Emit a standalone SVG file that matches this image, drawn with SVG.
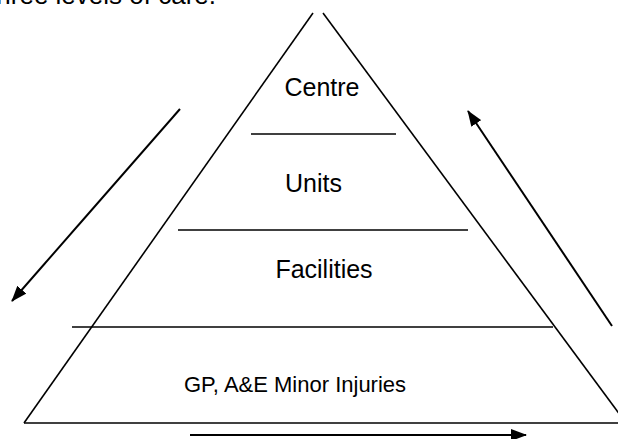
<svg xmlns="http://www.w3.org/2000/svg" width="618" height="439" viewBox="0 0 618 439">
<style>
.ln{stroke:#000;stroke-width:1.6;fill:none}
.ar{stroke:#000;stroke-width:2;fill:none}
.t{font-family:"Liberation Sans",Arial,sans-serif;font-size:25px;fill:#000;text-anchor:middle}
</style>
<defs>
<marker id="ah" markerUnits="userSpaceOnUse" markerWidth="16" markerHeight="12" refX="15" refY="6" orient="auto">
<path d="M0,0 L16,6 L0,12 Z" fill="#000"/>
</marker>
</defs>
<rect width="618" height="439" fill="#fff"/>
<text x="216" y="4" font-family="Liberation Sans,Arial,sans-serif" font-size="26" text-anchor="end">three levels of care.</text>
<g id="pyramid">
<line class="ln" x1="313" y1="13" x2="24" y2="423"/>
<line class="ln" x1="323" y1="13" x2="626" y2="423"/>
<line class="ln" x1="24" y1="423" x2="618" y2="423"/>
</g>
<g id="centre">
<text class="t" x="322" y="96">Centre</text>
<line class="ln" x1="251" y1="134" x2="396" y2="134"/>
</g>
<g id="units">
<text class="t" x="313.5" y="192">Units</text>
<line class="ln" x1="178" y1="230" x2="468" y2="230"/>
</g>
<g id="facilities">
<text class="t" x="324" y="278">Facilities</text>
<line class="ln" x1="72" y1="327" x2="553" y2="327"/>
</g>
<g id="gp">
<text class="t" x="295" y="392" style="font-size:22px">GP, A&amp;E Minor Injuries</text>
</g>
<g id="connectors">
<line class="ar" x1="180" y1="109" x2="12" y2="301" marker-end="url(#ah)"/>
<line class="ar" x1="612" y1="326" x2="468" y2="111" marker-end="url(#ah)"/>
<line class="ar" x1="190" y1="435" x2="526" y2="435" marker-end="url(#ah)"/>
</g>
</svg>
